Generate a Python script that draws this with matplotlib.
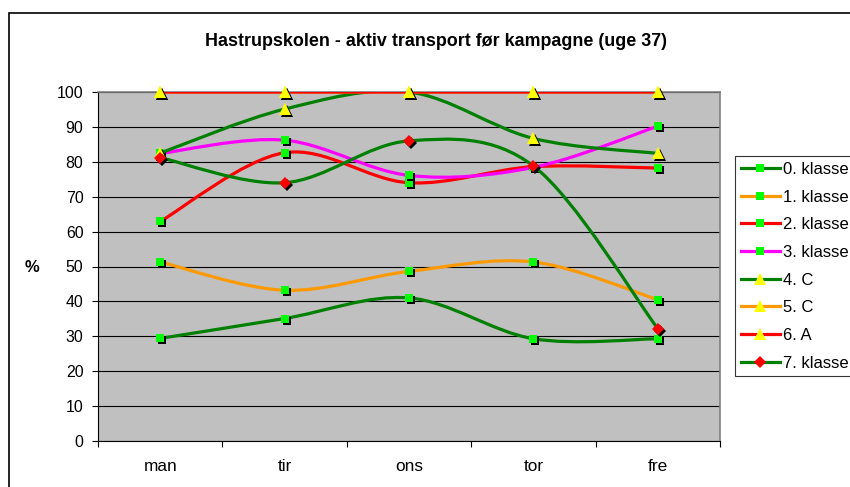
import matplotlib.pyplot as plt
import matplotlib.transforms as mtransforms
from matplotlib.path import Path
from matplotlib.patches import PathPatch, Rectangle
from matplotlib.lines import Line2D

plt.rcParams['font.family'] = ['Liberation Sans', 'DejaVu Sans']

days = ['man', 'tir', 'ons', 'tor', 'fre']
labels = ['0. klasse', '1. klasse', '2. klasse', '3. klasse', '4. C', '5. C', '6. A', '7. klasse']

klasse0 = [29.4, 35.1, 41.0, 29.3, 29.3]
klasse1 = [51.3, 43.2, 48.6, 51.3, 40.5]
klasse2 = [62.9, 82.6, 74.0, 78.6, 78.2]
klasse3 = [82.4, 86.2, 76.1, 78.4, 90.2]
c4 = [82.5, 95.1, 100.0, 86.7, 82.4]
c5 = [100.0, 100.0, 100.0, 100.0, 100.0]
a6 = [100.0, 100.0, 100.0, 100.0, 100.0]
klasse7 = [81.2, 74.0, 86.0, 78.8, 32.2]

series = [klasse0, klasse1, klasse2, klasse3, c4, c5, a6, klasse7]
line_colors = ['#008000', '#FF9900', '#FF0000', '#FF00FF', '#008000', '#FF9900', '#FF0000', '#008000']
markers = ['s', 's', 's', 's', '^', '^', '^', 'D']
marker_colors = ['#00FF00'] * 4 + ['#FFFF00'] * 3 + ['#FF0000']
marker_sizes = [6, 6, 6, 6, 8.5, 8.5, 8.5, 6.5]


def smooth_path(xs, ys):
    # excel-style smoothed line: catmull-rom segments as cubic beziers
    pts = list(zip(xs, ys))
    n = len(pts)
    verts = [pts[0]]
    codes = [Path.MOVETO]
    for i in range(n - 1):
        p0 = pts[max(i - 1, 0)]
        p1 = pts[i]
        p2 = pts[i + 1]
        p3 = pts[min(i + 2, n - 1)]
        c1 = (p1[0] + (p2[0] - p0[0]) / 6, p1[1] + (p2[1] - p0[1]) / 6)
        c2 = (p2[0] - (p3[0] - p1[0]) / 6, p2[1] - (p3[1] - p1[1]) / 6)
        verts += [c1, c2, p2]
        codes += [Path.CURVE4] * 3
    return Path(verts, codes)


fig = plt.figure(figsize=(8.5, 4.87), dpi=100)
ax = fig.add_axes([98 / 850, 46 / 487, 622 / 850, 349 / 487])
ax.set_facecolor('#C0C0C0')

x = list(range(len(days)))
shadow = ax.transData + mtransforms.ScaledTranslation(2 / 100, -2 / 100, fig.dpi_scale_trans)

for i, ys in enumerate(series):
    z = 3 + i * 3
    ax.add_patch(PathPatch(smooth_path(x, ys), fill=False, edgecolor=line_colors[i],
                           linewidth=2.3, zorder=z, capstyle='round', joinstyle='round'))
    ax.plot(x, ys, linestyle='none', marker=markers[i], markersize=marker_sizes[i],
            color='black', markeredgewidth=0, transform=shadow, zorder=z + 1, clip_on=False)
    ax.plot(x, ys, linestyle='none', marker=markers[i], markersize=marker_sizes[i],
            color=marker_colors[i], markeredgewidth=0, zorder=z + 2, clip_on=False)

ax.set_xlim(-0.5, 4.5)
ax.set_ylim(0, 100)
ax.set_yticks(range(0, 101, 10))
ax.yaxis.grid(True, color='black', linewidth=0.8)
ax.set_axisbelow(True)
ax.tick_params(axis='y', direction='out', length=4, width=0.8, pad=6.5, labelsize=11.4)

ax.set_xticks(x)
ax.set_xticklabels(days)
ax.set_xticks([v - 0.5 for v in range(len(days) + 1)], minor=True)
ax.tick_params(axis='x', which='major', length=0, pad=13, labelsize=12.4)
ax.tick_params(axis='x', which='minor', direction='out', length=4, width=0.8)

for s in ['top', 'right']:
    ax.spines[s].set_color('#808080')
    ax.spines[s].set_linewidth(1.2)
for s in ['left', 'bottom']:
    ax.spines[s].set_color('black')
    ax.spines[s].set_linewidth(0.8)

fig.text(436 / 850, 1 - 41 / 487, 'Hastrupskolen - aktiv transport før kampagne (uge 37)',
         ha='center', va='center', fontsize=12.9, fontweight='bold')
fig.text(32 / 850, 1 - 267 / 487, '%', ha='center', va='center', fontsize=12, fontweight='bold')

handles = [Line2D([0], [0], color=line_colors[i], linewidth=2.3, marker=markers[i],
                  markersize=marker_sizes[i] - 0.5, markerfacecolor=marker_colors[i],
                  markeredgewidth=0) for i in range(len(series))]
leg = fig.legend(handles, labels, loc='upper left', bbox_to_anchor=(735 / 850, 1 - 156 / 487),
                 fontsize=12, frameon=True, fancybox=False, edgecolor='black',
                 handlelength=2.35, handletextpad=0.2, labelspacing=0.76,
                 borderpad=0.35, borderaxespad=0)
leg.get_frame().set_linewidth(0.8)

fig.add_artist(Rectangle((9 / 850, -0.1), 2, 1.1 - 13 / 487, transform=fig.transFigure,
                         fill=False, edgecolor='black', linewidth=1.2))

fig.savefig('out.png', dpi=100)
